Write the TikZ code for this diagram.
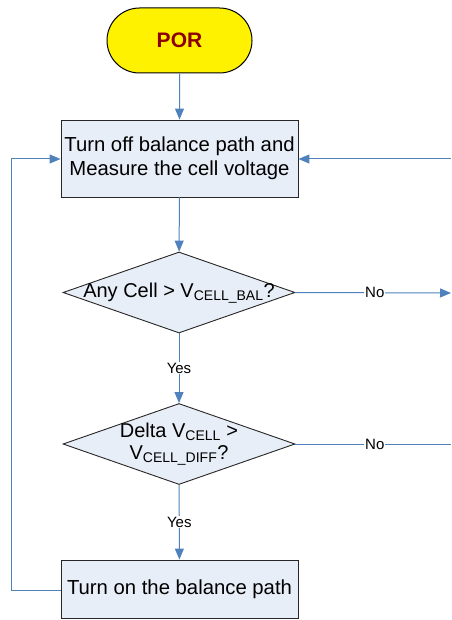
\documentclass[tikz,border=0pt]{standalone}
\usepackage{fontspec}
\setmainfont{Liberation Sans}
\usetikzlibrary{shapes.geometric,shapes.misc,arrows.meta}
\definecolor{boxfill}{HTML}{E8EEF7}
\definecolor{linecol}{HTML}{4F81BD}
\definecolor{porred}{HTML}{8B0000}
\tikzset{
  procbox/.style={rectangle, draw=black!85, line width=0.9pt, fill=boxfill,
    minimum width=237pt, minimum height=77pt, inner sep=0pt, align=center,
    font=\fontsize{20.3}{23.5}\selectfont},
  decbox/.style={diamond, draw=black!85, line width=0.9pt, fill=boxfill,
    minimum width=232pt, minimum height=81pt, inner sep=0pt},
  dectext/.style={align=center, font=\fontsize{20}{22.5}\selectfont},
  termbox/.style={rounded rectangle, draw=black, line width=1pt, fill=yellow,
    minimum width=145pt, minimum height=65pt, inner sep=0pt,
    text=porred, font=\fontsize{21}{24}\selectfont\bfseries},
  flow/.style={draw=linecol, line width=1pt},
  arr/.style={flow, -{Triangle[length=11pt,width=9pt]}},
  lbl/.style={fill=white, inner sep=1pt, text=black, font=\fontsize{15}{18}\selectfont}
}
\begin{document}
\begin{tikzpicture}[x=1pt,y=-1pt]
\useasboundingbox (0,0) rectangle (451,620);
\node[termbox] (por) at (179.5,40.5) {POR};
\node[procbox] (meas) at (179.5,158.5) {Turn off balance path and\\Measure the cell voltage};
\node[decbox] (d1) at (179,292.5) {};
\node[dectext] (t1) at (179,293) {Any Cell > V\textsubscript{CELL\_BAL}?};
\node[decbox] (d2) at (179,444) {};
\node[dectext] (t2) at (179,444) {Delta V\textsubscript{CELL} >\\V\textsubscript{CELL\_DIFF}?};
\node[procbox, minimum height=58pt] (bal) at (179.5,589) {Turn on the balance path};
\coordinate (r1) at (451,293);
\coordinate (r2) at (451,444);
\coordinate (r0) at (451,159);
\coordinate (lb) at (11,590);
\coordinate (lt) at (11,159);
\draw[arr] (por) -- (meas);
\draw[arr] (meas) -- (d1);
\draw[arr] (d1) -- node[lbl] {Yes} (d2);
\draw[arr] (d2) -- node[lbl] {Yes} (bal);
\draw[arr] (d1.east) -- node[lbl, pos=0.51] {No} (r1);
\draw[flow] (d2.east) -- node[lbl, pos=0.51] {No} (r2);
\draw[arr] (r0) -- (meas.east |- r0);
\draw[arr] (bal.west |- lb) -- (lb) -- (lt) -- (meas.west |- lt);
\end{tikzpicture}
\end{document}
